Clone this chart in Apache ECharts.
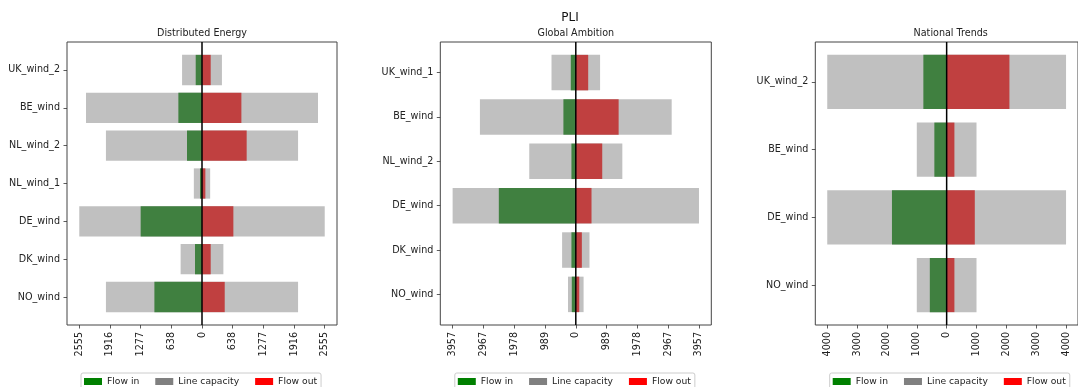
<!DOCTYPE html>
<html>
<head>
<meta charset="utf-8">
<script src="https://cdn.jsdelivr.net/npm/echarts@6/dist/echarts.min.js"></script>
<style>html,body{margin:0;padding:0;background:#fff}#c{width:1078px;height:387px}</style>
</head>
<body>
<div id="c"></div>
<script>
// ---- Data ----
const cats1 = ['UK_wind_2','BE_wind','NL_wind_2','NL_wind_1','DE_wind','DK_wind','NO_wind'];
const cap1  = [415, 2415, 2000, 170, 2555, 445, 2000];
const in1   = [131, 492, 312, 42, 1277, 146, 991];
const out1  = [181, 820, 930, 70, 653, 181, 473];
const ticks1 = [-2555, -1916.25, -1277.5, -638.75, 0, 638.75, 1277.5, 1916.25, 2555];
const tickLabels1 = ['2555','1916','1277','638','0','638','1277','1916','2555'];

const cats2 = ['UK_wind_1','BE_wind','NL_wind_2','DE_wind','DK_wind','NO_wind'];
const cap2  = [780, 3080, 1495, 3957, 440, 250];
const in2   = [161, 398, 140, 2473, 140, 129];
const out2  = [398, 1376, 849, 505, 194, 110];
const ticks2 = [-3957, -2967.75, -1978.5, -989.25, 0, 989.25, 1978.5, 2967.75, 3957];
const tickLabels2 = ['3957','2967','1978','989','0','989','1978','2967','3957'];

const cats3 = ['UK_wind_2','BE_wind','DE_wind','NO_wind'];
const cap3  = [4000, 1000, 4000, 1000];
const in3   = [780, 412, 1832, 564];
const out3  = [2103, 260, 943, 260];
const ticks3 = [-4000, -3000, -2000, -1000, 0, 1000, 2000, 3000, 4000];
const tickLabels3 = ['4000','3000','2000','1000','0','1000','2000','3000','4000'];

const titles = ['Distributed Energy', 'Global Ambition', 'National Trends'];
const legendNames = ['Flow in', 'Line capacity', 'Flow out'];

// ---- Build ----
const FONT = 'DejaVu Sans';
const FS = 9.6;
const panels = [
  {cats: cats1, cap: cap1, fin: in1, fout: out1, ticks: ticks1, labels: tickLabels1, left: 67, width: 270},
  {cats: cats2, cap: cap2, fin: in2, fout: out2, ticks: ticks2, labels: tickLabels2, left: 440.3, width: 271},
  {cats: cats3, cap: cap3, fin: in3, fout: out3, ticks: ticks3, labels: tickLabels3, left: 815.3, width: 270.7}
];

const grids = [], xAxes = [], yAxes = [], series = [], titleArr = [], legends = [];

function rectSeries(name, fill, legendColor, data, idx) {
  return {
    type: 'custom', name: name, xAxisIndex: idx, yAxisIndex: idx,
    itemStyle: {color: legendColor},
    encode: {x: [1, 2], y: 0},
    data: data,
    silent: true,
    renderItem: function (params, api) {
      const y = api.value(0);
      const p0 = api.coord([api.value(1), y]);
      const p1 = api.coord([api.value(2), y]);
      const h = Math.abs(api.size([0, 0.8])[1]);
      return {
        type: 'rect',
        shape: {x: Math.min(p0[0], p1[0]), y: p0[1] - h / 2, width: Math.abs(p1[0] - p0[0]), height: h},
        style: {fill: fill}
      };
    }
  };
}

panels.forEach((p, i) => {
  const n = p.cats.length;
  const maxCap = Math.max(...p.cap);
  const xlim = maxCap * 1.1;
  const ymin = -0.4 - 0.05 * (n - 1 + 0.8);
  const ymax = (n - 1) + 0.4 + 0.05 * (n - 1 + 0.8);
  grids.push({left: p.left, width: p.width, top: 42, height: 283, show: true,
    borderColor: '#444', borderWidth: 1, backgroundColor: 'transparent', containLabel: false});
  const tv = p.ticks, tl = p.labels;
  xAxes.push({
    type: 'value', gridIndex: i, min: -xlim, max: xlim, position: 'bottom',
    axisLine: {show: false, onZero: false}, splitLine: {show: false},
    axisTick: {show: true, inside: false, length: 3.5, lineStyle: {color: '#333', width: 0.8}, customValues: tv},
    axisLabel: {show: true, rotate: 90, margin: 7, fontFamily: FONT, fontSize: FS, color: '#222',
      customValues: tv,
      formatter: function (v) {
        let k = 0, best = Infinity;
        tv.forEach((t, j) => { const d = Math.abs(t - v); if (d < best) { best = d; k = j; } });
        return tl[k];
      }}
  });
  const cats = p.cats;
  const yv = cats.map((c, j) => j);
  yAxes.push({
    type: 'value', gridIndex: i, inverse: true, min: ymin, max: ymax, position: 'left',
    axisLine: {show: false, onZero: false}, splitLine: {show: false},
    axisTick: {show: true, inside: false, length: 3.5, lineStyle: {color: '#333', width: 0.8}, customValues: yv},
    axisLabel: {show: true, margin: 7, fontFamily: FONT, fontSize: FS, color: '#222',
      customValues: yv, formatter: v => cats[Math.round(v)] || ''}
  });
  series.push(rectSeries('Line capacity', '#c0c0c0', '#808080', p.cap.map((c, j) => [j, -c, c]), i));
  series.push(rectSeries('Flow in', '#408040', '#008000', p.fin.map((c, j) => [j, -c, 0]), i));
  series.push(rectSeries('Flow out', '#c04040', '#ff0000', p.fout.map((c, j) => [j, 0, c]), i));
  series.push({type: 'line', xAxisIndex: i, yAxisIndex: i, silent: true, symbol: 'none',
    data: [[0, ymin], [0, ymax]], lineStyle: {color: '#000', width: 1.5}, z: 5});
  const cx = (i === 2) ? 950.7 : p.left + p.width / 2;
  titleArr.push({text: titles[i], left: cx, top: 28, textAlign: 'center', padding: 0,
    textStyle: {fontFamily: FONT, fontSize: FS, fontWeight: 'normal', color: '#222'}});
  legends.push({
    data: [
      {name: 'Flow in', itemStyle: {color: '#008000'}},
      {name: 'Line capacity', itemStyle: {color: '#808080'}},
      {name: 'Flow out', itemStyle: {color: '#ff0000'}}
    ],
    left: cx - 121, top: 373, width: 270, orient: 'horizontal', icon: 'rect',
    itemWidth: 18, itemHeight: 7, itemGap: 16,
    padding: [4, 4, 4, 3], borderColor: '#ccc', borderWidth: 1, borderRadius: 2,
    selectedMode: false,
    textStyle: {fontFamily: FONT, fontSize: 9.2, color: '#222'}
  });
});

titleArr.push({text: 'PLI', left: 570, top: 12, textAlign: 'center', padding: 0,
  textStyle: {fontFamily: FONT, fontSize: 12, fontWeight: 'normal', color: '#111'}});

const chart = echarts.init(document.getElementById('c'), null, {renderer: 'canvas'});
chart.setOption({
  animation: false,
  backgroundColor: '#fff',
  title: titleArr,
  legend: legends,
  grid: grids,
  xAxis: xAxes,
  yAxis: yAxes,
  series: series
});
</script>
</body>
</html>
